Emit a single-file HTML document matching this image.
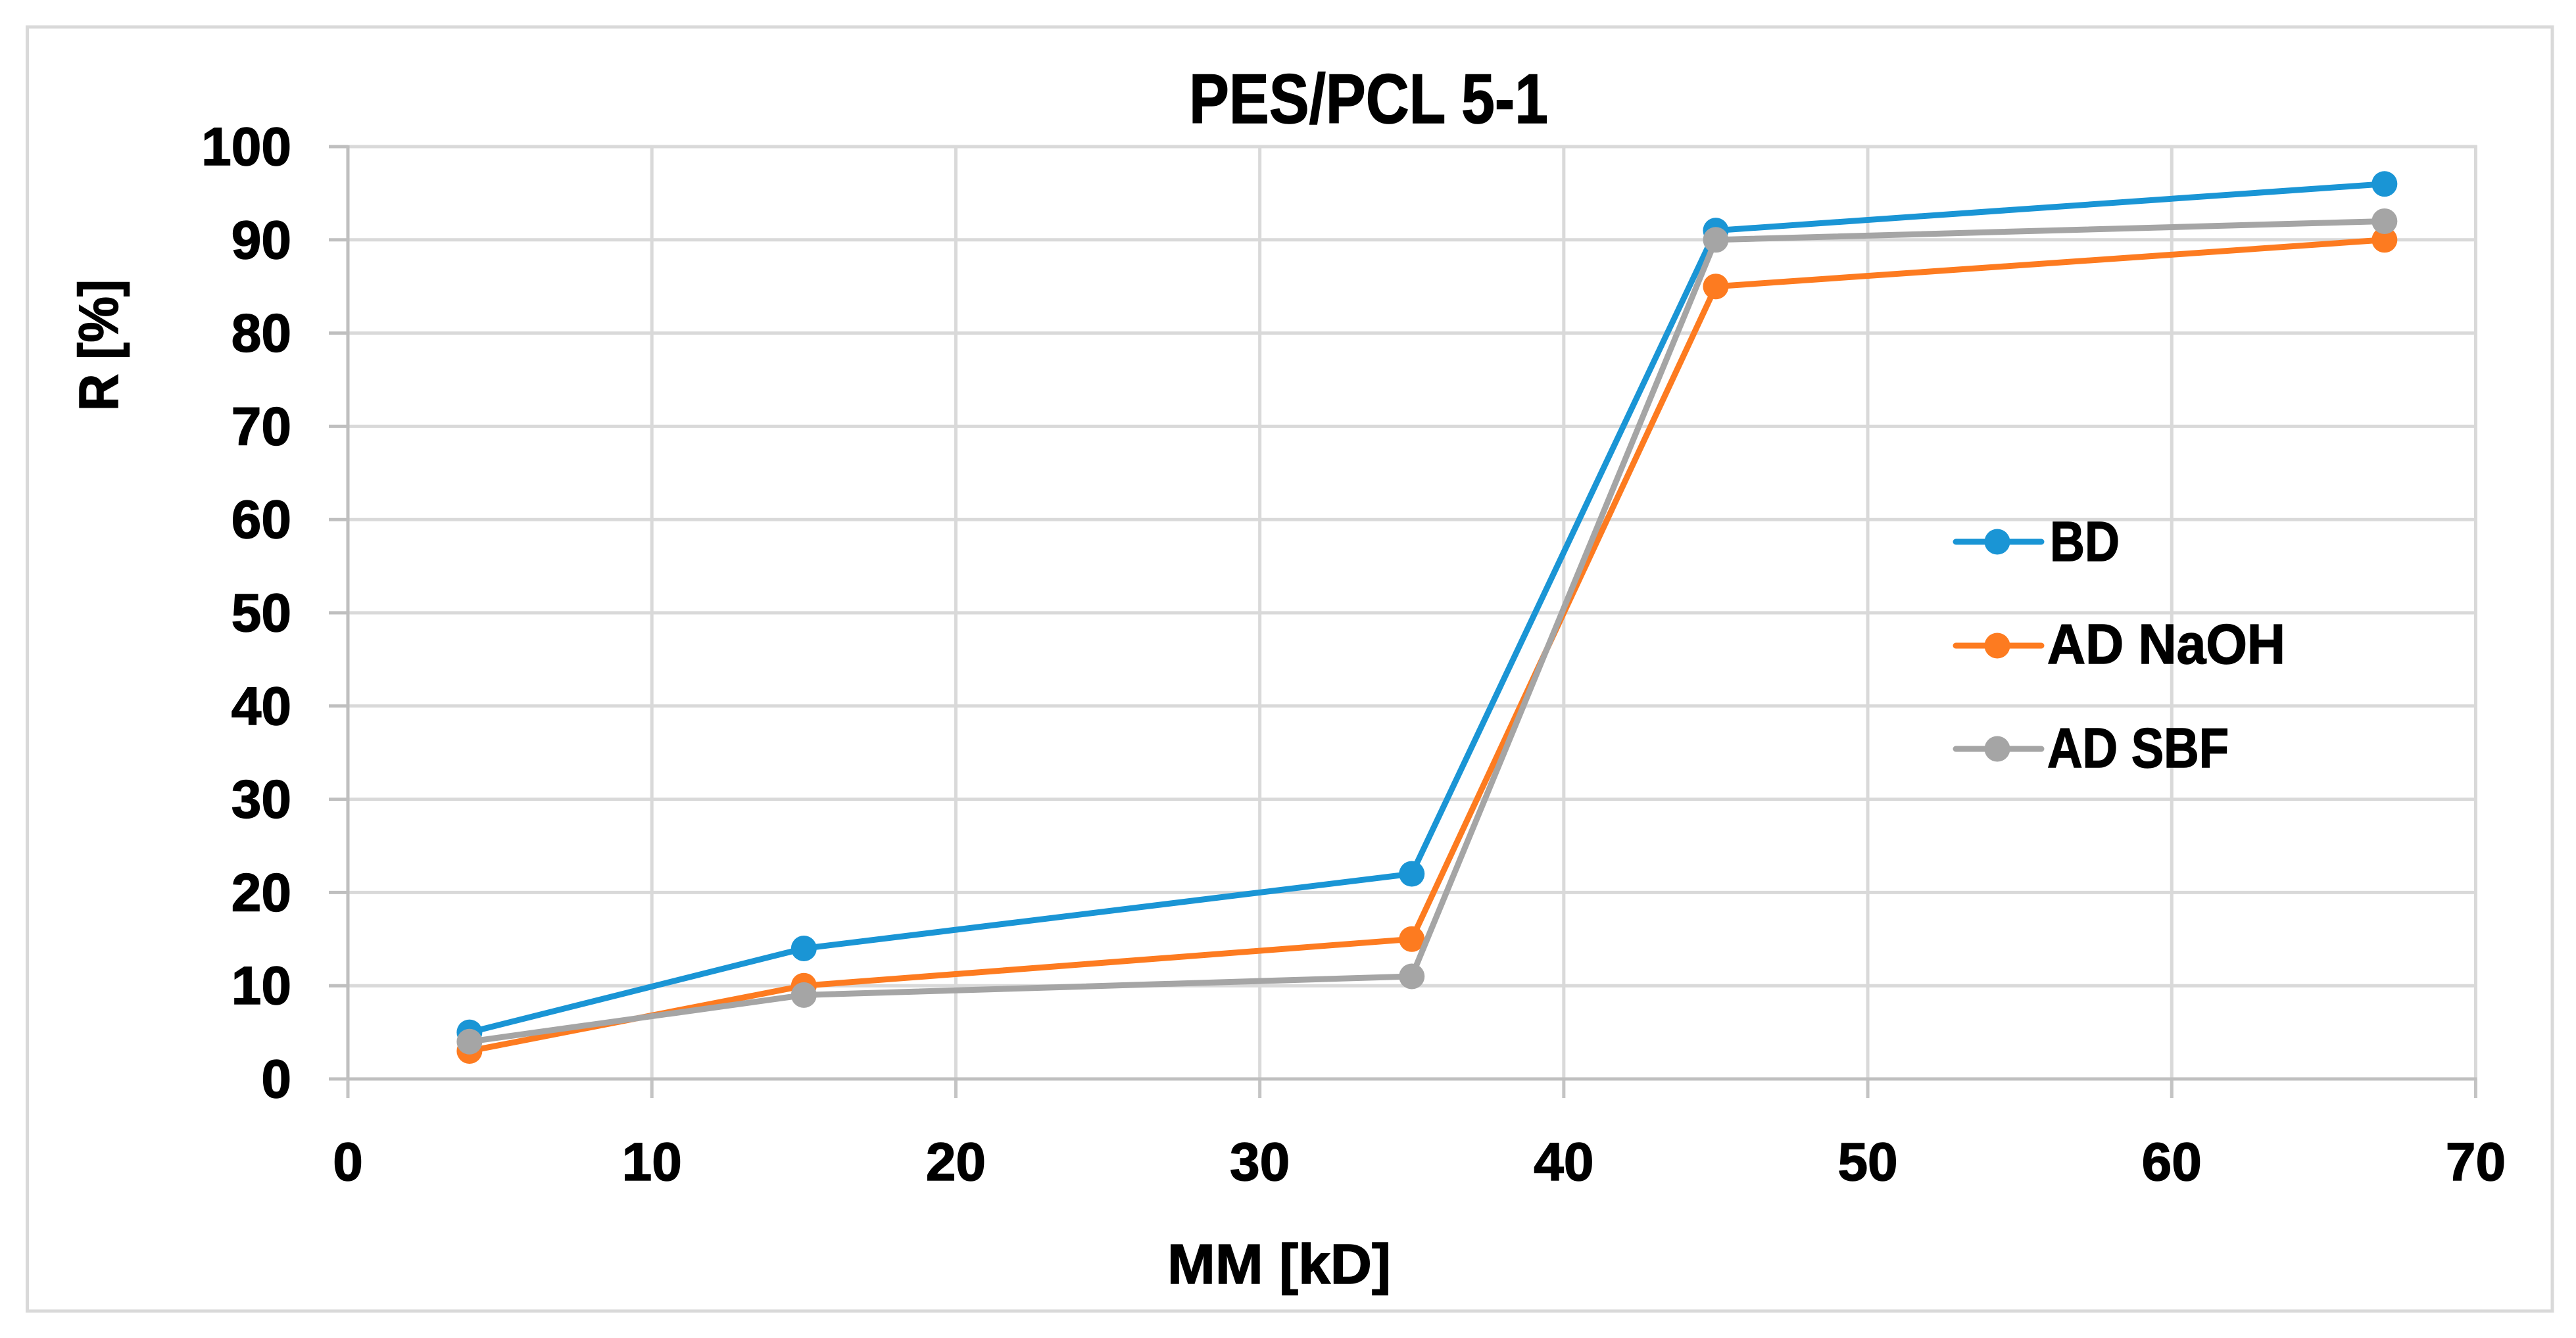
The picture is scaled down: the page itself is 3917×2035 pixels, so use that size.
<!DOCTYPE html>
<html lang="en">
<head>
<meta charset="utf-8">
<title>PES/PCL 5-1</title>
<style>
html,body{margin:0;padding:0;background:#fff;width:3917px;height:2035px;overflow:hidden}
svg{display:block}
text{font-family:"Liberation Sans",sans-serif;font-weight:700;fill:#000;stroke:#000;stroke-width:1.5px}
</style>
</head>
<body>
<svg id="chart" xmlns="http://www.w3.org/2000/svg" width="3917" height="2035" viewBox="0 0 3917 2035">
  <rect x="0" y="0" width="3917" height="2035" fill="#ffffff"/>
  <rect x="41.5" y="41" width="3839.5" height="1953" fill="#ffffff" stroke="#d9d9d9" stroke-width="5"/>
  <g id="grid"></g>
  <g id="axes"></g>
  <g id="series"></g>
  <g id="xlabels"></g>
  <g id="ylabels"></g>
  <text x="1808" y="187" font-size="107" textLength="546" lengthAdjust="spacingAndGlyphs">PES/PCL 5-1</text>
  <text x="1775" y="1952" font-size="85" textLength="340" lengthAdjust="spacingAndGlyphs">MM [kD]</text>
  <text transform="translate(179,625) rotate(-90)" font-size="84" textLength="200" lengthAdjust="spacingAndGlyphs">R [%]</text>
  <g id="legend"></g>
</svg>
<script>
var xCategories = [4, 15, 35, 45, 67];
var seriesBD = [5, 14, 22, 91, 96];
var seriesNaOH = [3, 10, 15, 85, 90];
var seriesSBF = [4, 9, 11, 90, 92];
var xTickLabels = [0, 10, 20, 30, 40, 50, 60, 70];
var yTickLabels = [0, 10, 20, 30, 40, 50, 60, 70, 80, 90, 100];
var seriesNames = ["BD", "AD NaOH", "AD SBF"];
var seriesColors = ["#1a95d5", "#fd7b20", "#a5a5a5"];

var NS = "http://www.w3.org/2000/svg";
var plotLeft = 529, plotRight = 3764.5, plotTop = 223, plotBottom = 1641;
var xMin = 0, xMax = 70, yMin = 0, yMax = 100;
function xScale(v) { return plotLeft + (v - xMin) / (xMax - xMin) * (plotRight - plotLeft); }
function yScale(v) { return plotBottom - (v - yMin) / (yMax - yMin) * (plotBottom - plotTop); }
function make(tag, attrs, parent) {
  var el = document.createElementNS(NS, tag);
  for (var k in attrs) { el.setAttribute(k, attrs[k]); }
  parent.appendChild(el);
  return el;
}
var gridG = document.getElementById("grid");
var axesG = document.getElementById("axes");
var seriesG = document.getElementById("series");
var xLabG = document.getElementById("xlabels");
var yLabG = document.getElementById("ylabels");
var legendG = document.getElementById("legend");

yTickLabels.forEach(function (t) {
  var y = yScale(t);
  if (t !== yMin) {
    var g = make("line", {x1: plotLeft, x2: plotRight + 2, y1: y, y2: y, stroke: "#d9d9d9", "stroke-width": 5}, gridG);
    
    
  }
  var tick = make("line", {x1: plotLeft - 29, x2: plotLeft, y1: y, y2: y, stroke: "#bfbfbf", "stroke-width": 5}, axesG);
  
  
  var lab = make("text", {x: 443, y: y + 28, "font-size": 82, "text-anchor": "end"}, yLabG);
  
  
  lab.textContent = t;
});
xTickLabels.forEach(function (t) {
  var x = xScale(t);
  if (t !== xMin) {
    var g = make("line", {x1: x, x2: x, y1: plotTop - 2, y2: plotBottom, stroke: "#d9d9d9", "stroke-width": 5}, gridG);
    
    
  }
  var tick = make("line", {x1: x, x2: x, y1: plotBottom, y2: plotBottom + 29, stroke: "#c4c4c4", "stroke-width": 5}, axesG);
  
  
  var lab = make("text", {x: x, y: 1795, "font-size": 82, "text-anchor": "middle"}, xLabG);
  
  
  lab.textContent = t;
});
var yAxisLine = make("line", {x1: plotLeft, x2: plotLeft, y1: plotTop - 2, y2: plotBottom, stroke: "#bfbfbf", "stroke-width": 5}, axesG);


var xAxisLine = make("line", {x1: plotLeft, x2: plotRight + 2, y1: plotBottom, y2: plotBottom, stroke: "#bfbfbf", "stroke-width": 5}, axesG);



[seriesBD, seriesNaOH, seriesSBF].forEach(function (vals, i) {
  var pts = vals.map(function (v, j) { return xScale(xCategories[j]) + "," + yScale(v); }).join(" ");
  var line = make("polyline", {points: pts, fill: "none", stroke: seriesColors[i], "stroke-width": 9, "stroke-linejoin": "round"}, seriesG);
  
  
  vals.forEach(function (v, j) {
    var c = make("circle", {cx: xScale(xCategories[j]), cy: yScale(v), r: 19.5, fill: seriesColors[i]}, seriesG);
    
    
  });
});

var legendRowY = [824, 982, 1139];
var legendBaseY = [853, 1009, 1167];
var legendTextX = [3117, 3113, 3113];
var legendTextW = [106, 362, 276];
seriesNames.forEach(function (name, i) {
  var l = make("line", {x1: 2974, x2: 3104, y1: legendRowY[i], y2: legendRowY[i], stroke: seriesColors[i], "stroke-width": 9, "stroke-linecap": "round"}, legendG);
  
  
  var m = make("circle", {cx: 3037, cy: legendRowY[i], r: 19.5, fill: seriesColors[i]}, legendG);
  
  
  var t = make("text", {x: legendTextX[i], y: legendBaseY[i], "font-size": 85, textLength: legendTextW[i], lengthAdjust: "spacingAndGlyphs"}, legendG);
  
  
  t.textContent = name;
});
</script>
</body>
</html>
